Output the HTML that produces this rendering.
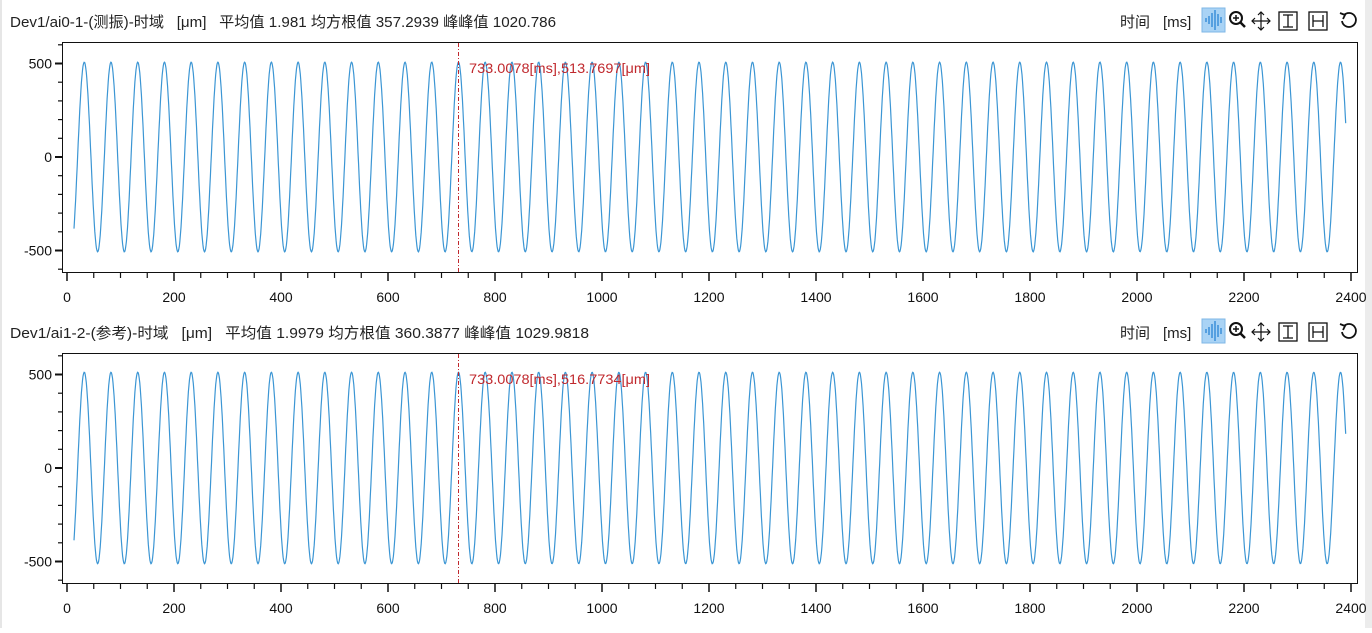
<!DOCTYPE html>
<html><head><meta charset="utf-8"><style>
body{margin:0;background:#fff;width:1372px;height:628px;overflow:hidden;font-family:"Liberation Sans","Noto Sans CJK SC",sans-serif}
</style></head><body>
<svg id="s" width="1372" height="628" xmlns="http://www.w3.org/2000/svg" font-family="Liberation Sans, Noto Sans CJK SC, sans-serif"></svg>
<script>
const s=document.getElementById('s');let h='';
h+='<rect x="0" y="0" width="2" height="628" fill="#e6e6e6"/><rect x="1365" y="0" width="7" height="628" fill="#ececec"/>';
function panel(oy,title,tl,amp,lab){
 h+=`<text x="10" y="${oy+27}" font-size="15" fill="#222" textLength="${tl}" lengthAdjust="spacingAndGlyphs">${title}</text>`;
 h+=`<text x="1120" y="${oy+27}" font-size="15" fill="#222">时间</text><text x="1163" y="${oy+27}" font-size="15" fill="#222">[ms]</text>`;
 h+=`<rect x="1202" y="${oy+8}" width="23" height="24" fill="#a9d3f5" stroke="#7fb7e6"/>`;
 [[1205,4],[1208,8],[1211,14],[1214,20],[1217,12],[1220,6]].forEach(([x,l])=>h+=`<line x1="${x+1}" x2="${x+1}" y1="${oy+20-l/2}" y2="${oy+20+l/2}" stroke="#3a8fd8" stroke-width="1.5"/>`);
 h+=`<circle cx="1236" cy="${oy+18}" r="6" fill="none" stroke="#111" stroke-width="2"/><line x1="1240" y1="${oy+22}" x2="1245" y2="${oy+27}" stroke="#111" stroke-width="2.5"/><line x1="1233" x2="1239" y1="${oy+18}" y2="${oy+18}" stroke="#111" stroke-width="1.5"/><line x1="1236" x2="1236" y1="${oy+15}" y2="${oy+21}" stroke="#111" stroke-width="1.5"/>`;
 h+=`<g stroke="#111" stroke-width="1.2" fill="none"><line x1="1252" x2="1270" y1="${oy+21}" y2="${oy+21}"/><line x1="1261" x2="1261" y1="${oy+12}" y2="${oy+30}"/><path d="M1255 ${oy+18}l-3 3 3 3M1267 ${oy+18}l3 3-3 3M1258 ${oy+15}l3-3 3 3M1258 ${oy+27}l3 3 3-3"/></g>`;
 h+=`<g stroke="#111" stroke-width="1.3" fill="none"><rect x="1279" y="${oy+12}" width="18" height="18"/><path d="M1283 ${oy+15}h10M1283 ${oy+27}h10M1288 ${oy+15}v12"/><rect x="1309" y="${oy+12}" width="18" height="18"/><path d="M1313 ${oy+15}v12M1323 ${oy+15}v12M1313 ${oy+21}h10"/><path d="M1344 ${oy+15} A7 7 0 1 1 1342 ${oy+21}" stroke-width="1.8"/><path d="M1340 ${oy+13}l5 2-2 4" stroke-width="1.8"/></g>`;
 const X=t=>67+t*0.535, Y=v=>oy+157-v*0.187;
 h+=`<rect x="62.5" y="${oy+42.5}" width="1295" height="230" fill="none" stroke="#111"/>`;
 for(let v=-600;v<=600;v+=100){const y=Y(v);if(y<oy+42||y>oy+272)continue;const maj=v%500==0;h+=`<line x1="${maj?55:58}" x2="62" y1="${y}" y2="${y}" stroke="#111" stroke-width="${maj?2:1.2}"/>`;if(maj)h+=`<text x="52" y="${y+5}" font-size="14" text-anchor="end" fill="#111">${v}</text>`;}
 for(let t=0;t<=2400;t+=50){const x=X(t);const maj=t%200==0;h+=`<line x1="${x}" x2="${x}" y1="${oy+273}" y2="${oy+(maj?281:278)}" stroke="#111" stroke-width="${maj?1.5:1.2}"/>`;if(maj)h+=`<text x="${x}" y="${oy+302}" font-size="14" text-anchor="middle" fill="#111">${t}</text>`;}
 let d='';for(let t=13;t<=2390;t+=1){const v=amp*Math.sin(2*Math.PI*(t-19.8)/49.96);d+=(t==13?'M':'L')+X(t).toFixed(1)+' '+Y(v).toFixed(1);}
 h+=`<path d="${d}" fill="none" stroke="#3c96d4" stroke-width="1.2"/>`;
 h+=`<line x1="458.5" x2="458.5" y1="${oy+43}" y2="${oy+272}" stroke="#c0282d" stroke-dasharray="4,2,1,2"/>`;
 h+=`<text x="469" y="${oy+73}" font-size="14" fill="#c0282d" textLength="181" lengthAdjust="spacingAndGlyphs">${lab}</text>`;
}
panel(0,'Dev1/ai0-1-(测振)-时域 &#160; [μm] &#160; 平均值 1.981 均方根值 357.2939 峰峰值 1020.786',546,507,'733.0078[ms],513.7697[μm]');
panel(311,'Dev1/ai1-2-(参考)-时域 &#160; [μm] &#160; 平均值 1.9979 均方根值 360.3877 峰峰值 1029.9818',579,512,'733.0078[ms],516.7734[μm]');
s.innerHTML=h;
</script>
</body></html>
